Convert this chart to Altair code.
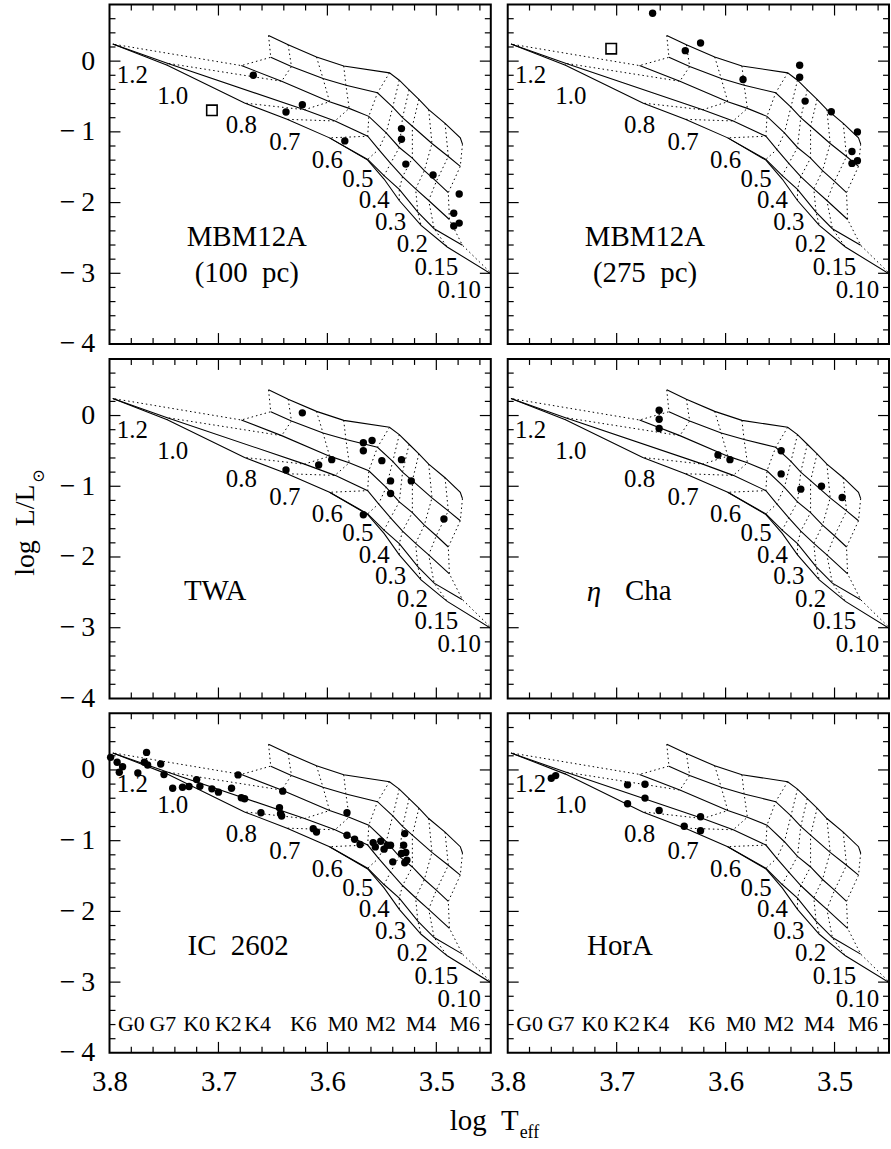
import altair as alt
import pandas as pd

FONT = "Liberation Serif"
W, H = 383, 341

# ---------------- evolutionary model grid ----------------
# Isochrones (solid), youngest first: node masses, log Teff, log L
ISO_A_M = [1.2, 1.0, 0.8, 0.7, 0.6, 0.5, 0.4, 0.3, 0.2, 0.15, None, 0.10]
ISO_A_T = [3.654, 3.636, 3.610, 3.585, 3.543, 3.534, 3.525, 3.516, 3.507, 3.492, 3.478, 3.476]
ISO_A_L = [0.363, 0.232, 0.059, -0.068, -0.166, -0.270, -0.406, -0.541, -0.687, -0.879, -1.085, -1.174]

ISO_B_M = [1.2, 1.0, 0.8, 0.7, 0.6, 0.5, 0.4, 0.3, 0.2, 0.15, 0.10]
ISO_B_T = [3.652, 3.633, 3.604, 3.583, 3.554, 3.540, 3.531, 3.522, 3.504, 3.489, 3.478]
ISO_B_L = [0.054, -0.077, -0.246, -0.340, -0.448, -0.649, -0.799, -0.921, -1.165, -1.348, -1.488]

ISO_C_M = [1.2, 1.0, 0.8, 0.7, 0.6, 0.5, 0.4, 0.3, 0.2, 0.15, 0.10]
ISO_C_T = [3.679, 3.642, 3.598, 3.580, 3.562, 3.546, 3.534, 3.522, 3.511, 3.500, 3.489]
ISO_C_L = [-0.063, -0.284, -0.574, -0.668, -0.781, -1.015, -1.221, -1.372, -1.549, -1.700, -1.859]

ISO_D_M = [1.2, 1.0, 0.8, 0.7, 0.6, 0.5, 0.4, 0.3, 0.2, 0.15, 0.10]
ISO_D_T = [3.797, 3.747, 3.621, 3.593, 3.563, 3.553, 3.542, 3.531, 3.519, 3.507, 3.488]
ISO_D_L = [0.241, -0.030, -0.687, -0.846, -1.062, -1.249, -1.446, -1.634, -1.807, -1.971, -2.239]

ISO_E_M = [0.6, 0.5, 0.4, 0.3, 0.2, 0.15, 0.10]
ISO_E_T = [3.598, 3.563, 3.548, 3.534, 3.517, 3.502, 3.476]
ISO_E_L = [-1.085, -1.390, -1.620, -1.812, -2.136, -2.370, -2.604]

ISO_F_M = [1.2, 1.0, 0.8, 0.7, 0.6, 0.5, 0.4, 0.3, 0.2, 0.15, 0.10]
ISO_F_T = [3.797, 3.747, 3.676, 3.637, 3.598, 3.563, 3.548, 3.534, 3.514, 3.490, 3.448]
ISO_F_L = [0.241, -0.059, -0.593, -0.823, -1.085, -1.400, -1.667, -1.971, -2.323, -2.628, -3.026]

TRACK_MASSES = [1.2, 1.0, 0.8, 0.7, 0.6, 0.5, 0.4, 0.3, 0.2, 0.15, 0.10]

# mass labels along the lower sequence
MASS_TEXT = ["1.2", "1.0", "0.8", "0.7", "0.6", "0.5", "0.4", "0.3", "0.2", "0.15", "0.10"]
MASS_T = [3.779, 3.742, 3.679, 3.639, 3.600, 3.572, 3.557, 3.542, 3.522, 3.500, 3.479]
MASS_L = [-0.199, -0.495, -0.902, -1.151, -1.399, -1.667, -1.971, -2.276, -2.590, -2.909, -3.237]

# spectral-type scale (bottom row)
SPT_TEXT = ["G0", "G7", "K0", "K2", "K4", "K6", "M0", "M2", "M4", "M6"]
SPT_T = [3.780, 3.751, 3.720, 3.691, 3.664, 3.622, 3.586, 3.551, 3.514, 3.474]
SPT_L = -3.59

# ---------------- observed stars ----------------
MBM100_T = [3.668, 3.638, 3.623, 3.584, 3.532, 3.532, 3.528, 3.503, 3.479, 3.484, 3.484, 3.479]
MBM100_L = [-0.199, -0.720, -0.617, -1.128, -0.954, -1.104, -1.456, -1.610, -1.878, -2.150, -2.332, -2.290]
MBM100_SQ_T = [3.706]
MBM100_SQ_L = [-0.696]

MBM275_T = [3.667, 3.637, 3.623, 3.584, 3.532, 3.532, 3.527, 3.503, 3.479, 3.484, 3.484, 3.479]
MBM275_L = [0.677, 0.148, 0.256, -0.260, -0.059, -0.227, -0.565, -0.715, -1.001, -1.278, -1.446, -1.409]
MBM275_SQ_T = [3.705]
MBM275_SQ_L = [0.176]

TWA_T = [3.623, 3.638, 3.608, 3.596, 3.567, 3.567, 3.559, 3.550, 3.532, 3.542, 3.523, 3.542, 3.567, 3.493]
TWA_L = [0.038, -0.769, -0.699, -0.624, -0.384, -0.497, -0.352, -0.638, -0.624, -0.924, -0.924, -1.102, -1.402, -1.463]

ETA_T = [3.661, 3.661, 3.661, 3.607, 3.596, 3.549, 3.549, 3.531, 3.512, 3.493]
ETA_L = [0.075, -0.052, -0.183, -0.558, -0.624, -0.497, -0.825, -1.041, -0.999, -1.158]

IC2602_T = [3.799, 3.793, 3.788, 3.791, 3.766, 3.768, 3.765, 3.774, 3.753, 3.750,
            3.742, 3.733, 3.727, 3.720, 3.717, 3.706, 3.700, 3.688, 3.682, 3.679,
            3.676, 3.661, 3.644, 3.643, 3.642, 3.641, 3.613, 3.610, 3.582, 3.582,
            3.575, 3.570, 3.558, 3.556, 3.551, 3.548, 3.545, 3.542, 3.540, 3.529,
            3.530, 3.532, 3.528, 3.527, 3.529]
IC2602_L = [0.178, 0.108, 0.047, -0.033, 0.248, 0.108, 0.070, -0.042, 0.084, -0.066,
            -0.258, -0.244, -0.234, -0.136, -0.230, -0.267, -0.314, -0.258, -0.070, -0.394,
            -0.408, -0.605, -0.534, -0.619, -0.652, -0.300, -0.830, -0.877, -0.605, -0.924,
            -0.980, -1.055, -1.027, -1.088, -1.008, -1.120, -1.064, -1.064, -1.299, -0.900,
            -1.064, -1.181, -1.167, -1.275, -1.313]

HORA_T = [3.760, 3.756, 3.690, 3.674, 3.690, 3.674, 3.661, 3.638, 3.623, 3.623]
HORA_L = [-0.117, -0.080, -0.211, -0.202, -0.478, -0.398, -0.572, -0.797, -0.661, -0.858]

# ---------------- frame ticks ----------------
X_MAJOR_TICKS = [3.5, 3.6, 3.7]
X_MINOR_TICKS = [3.46, 3.48, 3.52, 3.54, 3.56, 3.58, 3.62, 3.64, 3.66, 3.68, 3.72, 3.74, 3.76, 3.78]
Y_MAJOR_TICKS = [-3, -2, -1, 0]
Y_MINOR_TICKS = [-3.8, -3.6, -3.4, -3.2, -2.8, -2.6, -2.4, -2.2, -1.8, -1.6, -1.4, -1.2,
                 -0.8, -0.6, -0.4, -0.2, 0.2, 0.4, 0.6]
X_LABELS = [3.8, 3.7, 3.6, 3.5]
Y_LABELS = [0, -1, -2, -3, -4]

# ---------------- tables ----------------
ISOS = [("A", ISO_A_M, ISO_A_T, ISO_A_L), ("B", ISO_B_M, ISO_B_T, ISO_B_L),
        ("C", ISO_C_M, ISO_C_T, ISO_C_L), ("D", ISO_D_M, ISO_D_T, ISO_D_L),
        ("E", ISO_E_M, ISO_E_T, ISO_E_L), ("F", ISO_F_M, ISO_F_T, ISO_F_L)]

iso_rows = []
for name, ms, ts, ls in ISOS:
    for k, (t, l) in enumerate(zip(ts, ls)):
        iso_rows.append({"iso": name, "k": k, "T": t, "L": l})
iso_df = pd.DataFrame(iso_rows)

track_rows = []
for m in TRACK_MASSES:
    j = 0
    for name, ms, ts, ls in ISOS:
        if m in ms:
            i = ms.index(m)
            track_rows.append({"mass": str(m), "k": j, "T": ts[i], "L": ls[i]})
            j += 1
track_df = pd.DataFrame(track_rows)

mass_df = pd.DataFrame({"T": MASS_T, "L": MASS_L, "text": MASS_TEXT})
spt_df = pd.DataFrame({"T": SPT_T, "L": [SPT_L] * len(SPT_T), "text": SPT_TEXT})

XS = alt.Scale(domain=[3.45, 3.8], reverse=True, nice=False, zero=False)
YS = alt.Scale(domain=[-4, 0.8], nice=False, zero=False)

X_AXIS = alt.Axis(values=X_LABELS, format=".1f", ticks=False, domain=False, grid=False,
                  labelFlush=False, labelOverlap=False, labelPadding=15, title=None,
                  labelFont=FONT, labelFontSize=29, labelColor="black")
Y_AXIS = alt.Axis(values=Y_LABELS, ticks=False, domain=False, grid=False,
                  labelFlush=False, labelOverlap=False, labelPadding=15, title=None,
                  labelExpr="datum.value < 0 ? '\u2212\u2009' + (-datum.value) : '0'",
                  labelFont=FONT, labelFontSize=28, labelColor="black")


def panel(names, stars_t, stars_l, sq_t=None, sq_l=None, bottom=False, left=False,
          extra=None):
    xa = X_AXIS if bottom else None
    ya = Y_AXIS if left else None

    def X(f):
        return alt.X(f, type="quantitative", scale=XS, axis=xa)

    def Y(f):
        return alt.Y(f, type="quantitative", scale=YS, axis=ya)

    layers = []
    layers.append(alt.Chart(iso_df).mark_line(color="black", strokeWidth=1.1, clip=True)
                  .encode(x=X("T"), y=Y("L"), detail="iso:N", order="k:Q"))
    layers.append(alt.Chart(track_df).mark_line(color="black", strokeWidth=1.0,
                                                 strokeDash=[1.5, 3], clip=True)
                  .encode(x=X("T"), y=Y("L"), detail="mass:N", order="k:Q"))
    stars = pd.DataFrame({"T": stars_t, "L": stars_l})
    layers.append(alt.Chart(stars).mark_circle(size=55, color="black", opacity=1)
                  .encode(x=X("T"), y=Y("L")))
    if sq_t is not None:
        sq = pd.DataFrame({"T": sq_t, "L": sq_l})
        layers.append(alt.Chart(sq).mark_point(shape="square", size=110, filled=False,
                                               stroke="black", strokeWidth=1.6, opacity=1)
                      .encode(x=X("T"), y=Y("L")))
    layers.append(alt.Chart(mass_df).mark_text(font=FONT, fontSize=25, color="black")
                  .encode(x=X("T"), y=Y("L"), text="text:N"))
    if bottom:
        layers.append(alt.Chart(spt_df).mark_text(font=FONT, fontSize=22, color="black")
                      .encode(x=X("T"), y=Y("L"), text="text:N"))
    for text, t, l, style in names:
        d = pd.DataFrame({"T": [t], "L": [l], "text": [text]})
        layers.append(alt.Chart(d).mark_text(font=FONT, fontSize=29, color="black",
                                             fontStyle=style)
                      .encode(x=X("T"), y=Y("L"), text="text:N"))

    # inward frame ticks on all four sides
    for vals, ln in ((X_MAJOR_TICKS, 11), (X_MINOR_TICKS, 6)):
        d = pd.DataFrame({"v": vals})
        b = alt.Chart(d).mark_rule(color="black", strokeWidth=1.2)
        layers.append(b.encode(x=X("v"), y=alt.value(H), y2=alt.value(H - ln)))
        layers.append(b.encode(x=X("v"), y=alt.value(0), y2=alt.value(ln)))
    for vals, ln in ((Y_MAJOR_TICKS, 11), (Y_MINOR_TICKS, 6)):
        d = pd.DataFrame({"v": vals})
        b = alt.Chart(d).mark_rule(color="black", strokeWidth=1.2)
        layers.append(b.encode(y=Y("v"), x=alt.value(0), x2=alt.value(ln)))
        layers.append(b.encode(y=Y("v"), x=alt.value(W), x2=alt.value(W - ln)))

    if extra:
        layers.extend(extra)
    return alt.layer(*layers).properties(width=W, height=H)


one = pd.DataFrame({"a": [0]})
y_title = [
    alt.Chart(one).mark_text(font=FONT, fontSize=28, angle=270, align="center",
                             baseline="middle", color="black")
    .encode(x=alt.value(-84), y=alt.value(172), text=alt.value("log\u2002L/L")),
    alt.Chart(one).mark_text(font=FONT, fontSize=16, align="center",
                             baseline="middle", color="black")
    .encode(x=alt.value(-71), y=alt.value(118), text=alt.value("\u2299")),
]
x_title = [
    alt.Chart(one).mark_text(font=FONT, fontSize=29, align="right",
                             baseline="middle", color="black")
    .encode(x=alt.value(411), y=alt.value(410), text=alt.value("log\u2002T")),
    alt.Chart(one).mark_text(font=FONT, fontSize=18, align="left",
                             baseline="middle", color="black")
    .encode(x=alt.value(412), y=alt.value(422), text=alt.value("eff")),
]

p11 = panel([("MBM12A", 3.674, -2.487, "normal"), ("(100\u2002pc)", 3.674, -3.003, "normal")],
            MBM100_T, MBM100_L, MBM100_SQ_T, MBM100_SQ_L, left=True)
p12 = panel([("MBM12A", 3.674, -2.487, "normal"), ("(275\u2002pc)", 3.674, -3.003, "normal")],
            MBM275_T, MBM275_L, MBM275_SQ_T, MBM275_SQ_L)
p21 = panel([("TWA", 3.703, -2.48, "normal")], TWA_T, TWA_L, left=True, extra=y_title)
p22 = panel([("\u03b7", 3.721, -2.50, "italic"), ("Cha", 3.671, -2.48, "normal")],
            ETA_T, ETA_L)
p31 = panel([("IC\u20022602", 3.682, -2.494, "normal")], IC2602_T, IC2602_L,
            bottom=True, left=True, extra=x_title)
p32 = panel([("HorA", 3.697, -2.49, "normal")], HORA_T, HORA_L, bottom=True)

chart = alt.concat(
    p11, p12, p21, p22, p31, p32,
    columns=2, spacing={"row": 15, "column": 17}, bounds="flush",
).properties(
    padding={"left": 11, "top": 0, "right": 0, "bottom": 0}
).configure_view(stroke="black", strokeWidth=2)

chart.save("out.html", embed_options={"renderer": "svg", "actions": False})
